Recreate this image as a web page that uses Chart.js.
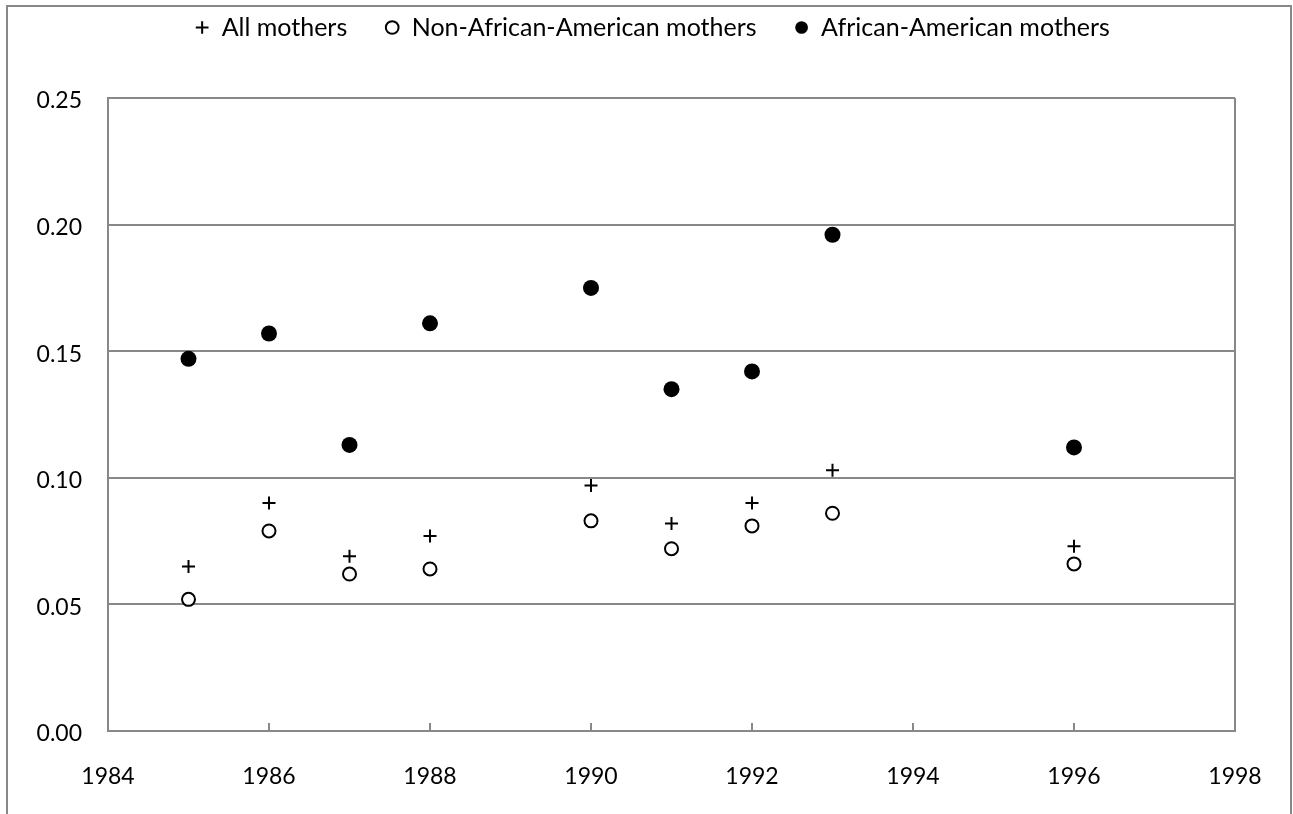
<!DOCTYPE html>
<html>
<head>
<meta charset="utf-8">
<script src="https://cdn.jsdelivr.net/npm/chart.js@4/dist/chart.umd.min.js"></script>
<style>
  html, body { margin: 0; padding: 0; background: #fff; overflow: hidden; }
  #frame {
    position: absolute; left: 6px; top: 5px;
    width: 1282px; height: 900px;
    border: 2px solid #898989;
  }
  #chart { position: absolute; left: 0; top: 0; }
</style>
</head>
<body>
<div id="frame"></div>
<canvas id="chart" width="1293" height="814"></canvas>
<script>
"use strict";

// values
const years = [1985, 1986, 1987, 1988, 1990, 1991, 1992, 1993, 1996];
const allMothers = [0.065, 0.090, 0.069, 0.077, 0.097, 0.082, 0.090, 0.103, 0.073];
const nonAfricanAmerican = [0.052, 0.079, 0.062, 0.064, 0.083, 0.072, 0.081, 0.086, 0.066];
const africanAmerican = [0.147, 0.157, 0.113, 0.161, 0.175, 0.135, 0.142, 0.196, 0.112];
const seriesNames = ["All mothers", "Non-African-American mothers", "African-American mothers"];

const gray = "#888888";
const fontFamily = "Lato, 'Open Sans', sans-serif";

const toPoints = (ys) => years.map((x, i) => ({ x: x, y: ys[i] }));

// stretch legend so the plot box starts where the reference puts it
const legendHeight = {
  id: "legendHeight",
  beforeInit(chart) {
    const fit = chart.legend.fit;
    chart.legend.fit = function () {
      fit.bind(chart.legend)();
      this.height = 121;
    };
  },
};

const data = {
  datasets: [
    {
      label: seriesNames[0],
      data: toPoints(allMothers),
      pointStyle: "cross",
      pointRadius: 6.5,
      pointBorderWidth: 2,
      borderColor: "#000",
      backgroundColor: "#000",
    },
    {
      label: seriesNames[1],
      data: toPoints(nonAfricanAmerican),
      pointStyle: "circle",
      pointRadius: 6.5,
      pointBorderWidth: 2,
      borderColor: "#000",
      backgroundColor: "#fff",
    },
    {
      label: seriesNames[2],
      data: toPoints(africanAmerican),
      pointStyle: "circle",
      pointRadius: 8,
      pointBorderWidth: 0,
      borderColor: "#000",
      backgroundColor: "#000",
    },
  ],
};

const config = {
  type: "scatter",
  data: data,
  options: {
    responsive: false,
    animation: false,
    layout: {
      padding: { left: 12, right: 0, top: -23, bottom: 0 },
    },
    plugins: {
      tooltip: { enabled: false },
      legend: {
        position: "top",
        labels: {
          usePointStyle: true,
          boxWidth: 14,
          boxHeight: 9,
          padding: 38,
          color: "#000",
          font: { family: fontFamily, size: 25 },
        },
      },
    },
    scales: {
      x: {
        type: "linear",
        min: 1984,
        max: 1998,
        afterFit: (scale) => { scale.height = 83; },
        ticks: {
          stepSize: 2,
          padding: 25,
          color: "#000",
          font: { family: fontFamily, size: 23, lineHeight: 2.5 },
          callback: (value) => String(value),
        },
        grid: {
          drawOnChartArea: true,
          color: (ctx) => (ctx.tick && ctx.tick.value === 1998 ? gray : "rgba(0,0,0,0)"),
          lineWidth: 2,
          tickLength: -8,
          tickColor: gray,
          tickWidth: 2,
        },
        border: { color: gray, width: 2 },
      },
      y: {
        min: 0,
        max: 0.25,
        afterFit: (scale) => { scale.width = 96; },
        ticks: {
          stepSize: 0.05,
          padding: 26,
          labelOffset: 3,
          color: "#000",
          font: { family: fontFamily, size: 23 },
          callback: (value) => value.toFixed(2),
        },
        grid: { color: gray, lineWidth: 2, drawTicks: false },
        border: { color: gray, width: 2 },
      },
      // empty axis that only reserves the right margin
      y2: {
        position: "right",
        afterFit: (scale) => { scale.width = 58; },
        ticks: { display: false },
        grid: { display: false },
        border: { display: false },
      },
    },
  },
  plugins: [legendHeight],
};

const myChart = new Chart(document.getElementById("chart"), config);
</script>
</body>
</html>
